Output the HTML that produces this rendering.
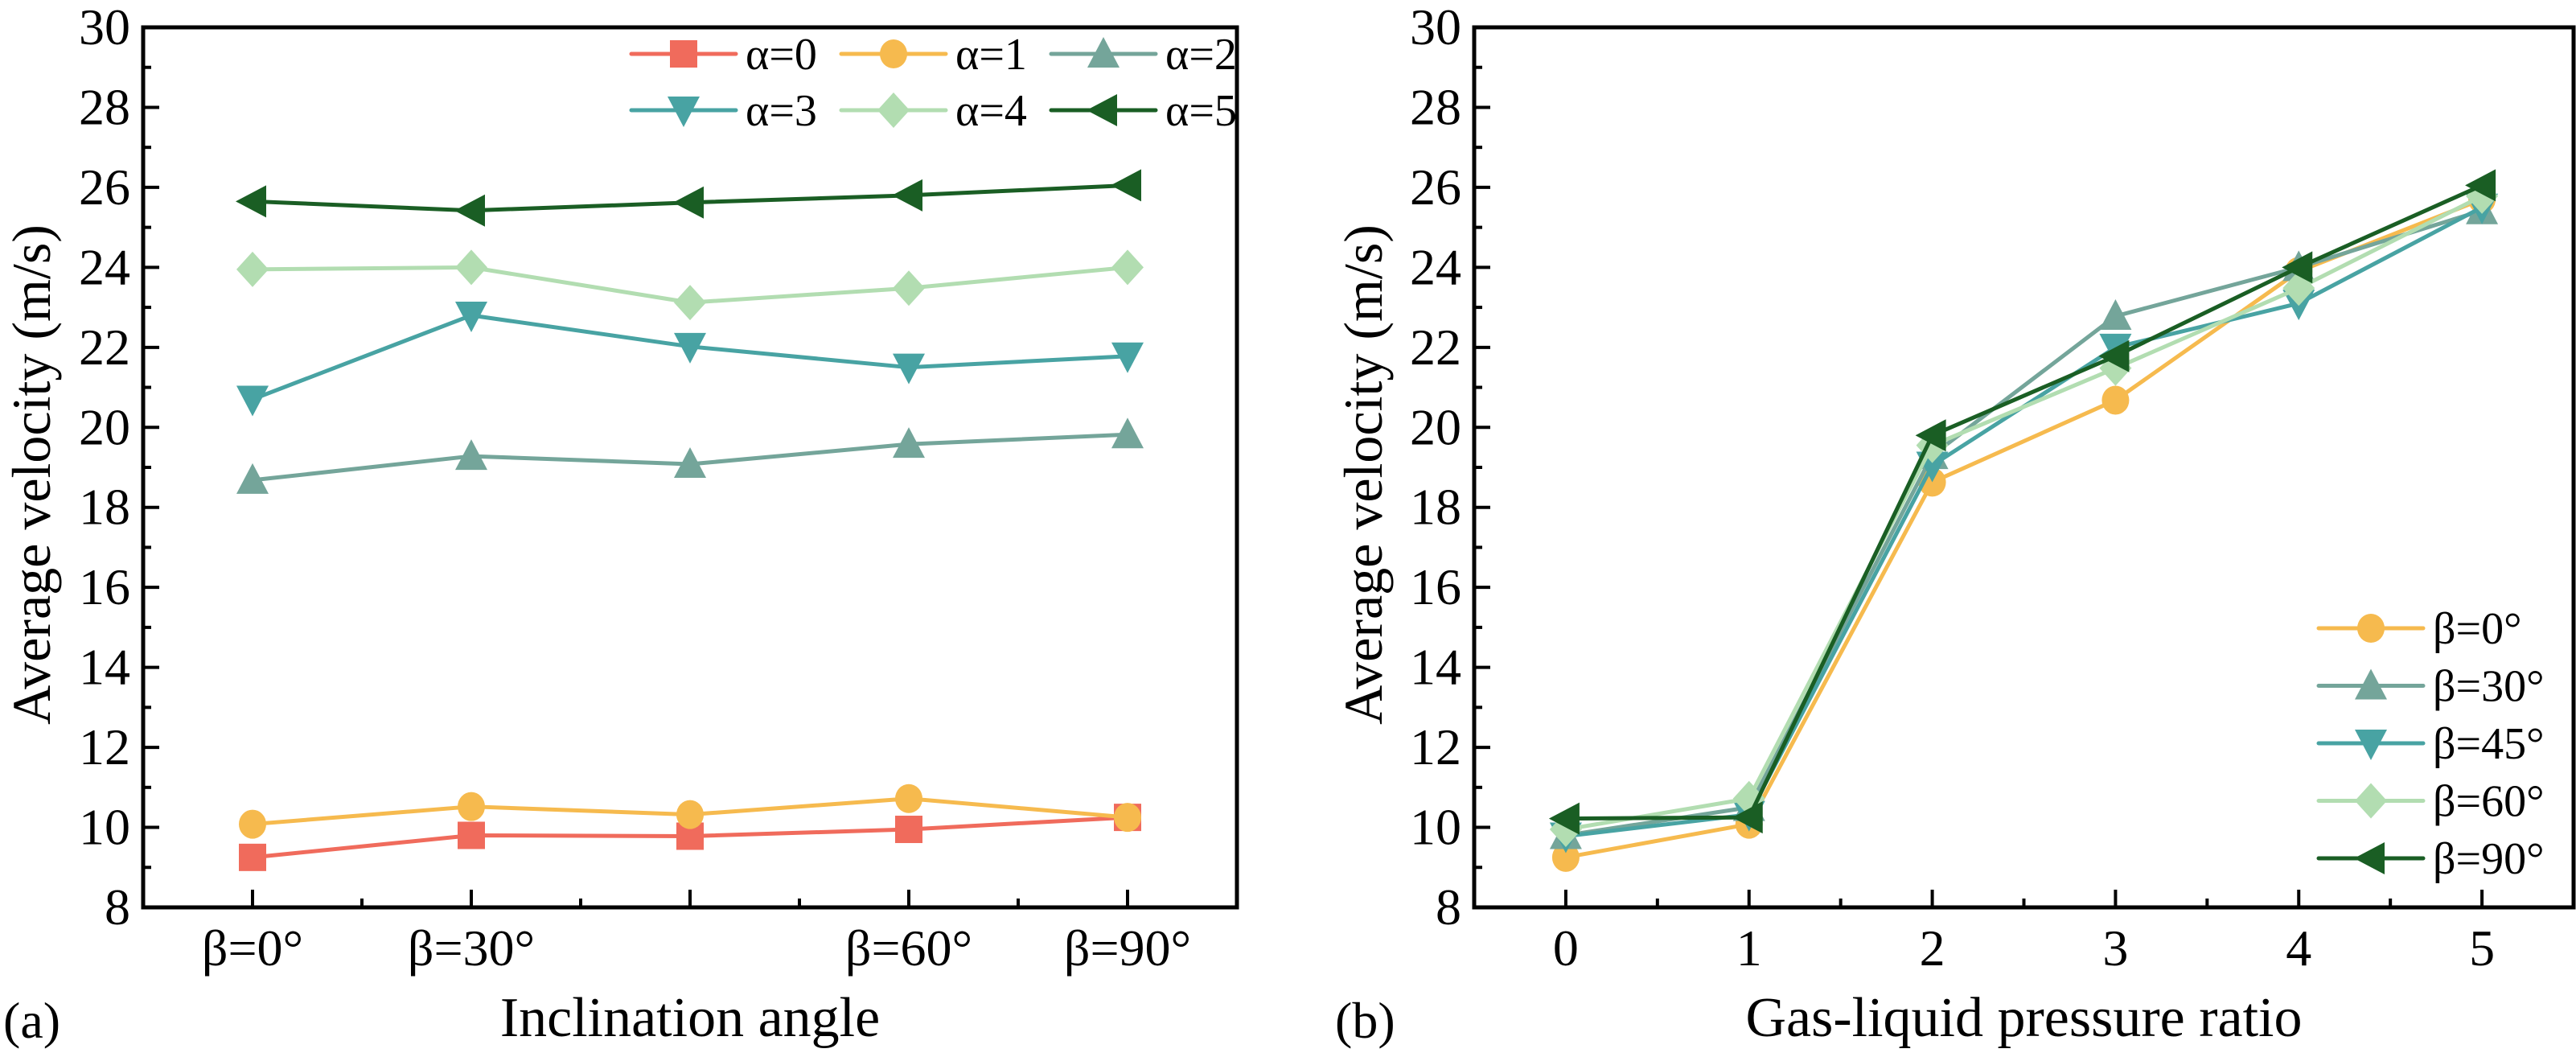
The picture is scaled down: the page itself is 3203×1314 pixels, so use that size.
<!DOCTYPE html>
<html><head><meta charset="utf-8"><style>
html,body{margin:0;padding:0;background:#fff;}
svg, svg text{font-family:"Liberation Serif","Times New Roman","DejaVu Serif","Noto Serif CJK SC",serif;}
</style></head><body>
<svg id="fig" width="3203" height="1309" viewBox="0 0 3203 1309" xmlns="http://www.w3.org/2000/svg">
<rect x="0" y="0" width="3203" height="1309" fill="#fff"/>
</svg>
<script>
const catsA = ["β=0°","β=30°","","β=60°","β=90°"];
const a0 = [9.25, 9.8, 9.78, 9.95, 10.25];
const a1 = [10.08, 10.52, 10.32, 10.72, 10.25];
const a2 = [18.68, 19.28, 19.08, 19.58, 19.82];
const a3 = [20.7, 22.8, 22.02, 21.5, 21.78];
const a4 = [23.95, 24.0, 23.12, 23.48, 24.0];
const a5 = [25.65, 25.42, 25.62, 25.8, 26.05];
const catsB = ["0","1","2","3","4","5"];
const b0 = [9.25, 10.08, 18.63, 20.68, 23.9, 25.7];
const b30 = [9.8, 10.5, 19.3, 22.78, 24.0, 25.42];
const b45 = [9.78, 10.32, 19.05, 22.0, 23.1, 25.5];
const b60 = [9.95, 10.72, 19.55, 21.48, 23.48, 25.78];
const b90 = [10.22, 10.25, 19.8, 21.78, 24.0, 26.05];
const yTicks = [8,10,12,14,16,18,20,22,24,26,28,30];
const namesA = ["α=0","α=1","α=2","α=3","α=4","α=5"];
const namesB = ["β=0°","β=30°","β=45°","β=60°","β=90°"];

const C = {sq:"#F06B5C",ci:"#F6BA4E",up:"#74A59A",dn:"#48A3A3",di:"#B2DDB1",lf:"#1A5E24"};
const FF = '"Liberation Serif","Times New Roman","DejaVu Serif",serif';
const NS="http://www.w3.org/2000/svg";
const svg=document.getElementById('fig');
function mk(tag,attrs,parent){const e=document.createElementNS(NS,tag);for(const k in attrs)e.setAttribute(k,attrs[k]);if(tag==='text'){e.style.fontFamily=FF;}(parent||svg).appendChild(e);return e;}

function marker(g,shape,x,y,color){
  const s=17;let e;
  if(shape==='sq') e=mk('rect',{x:x-s,y:y-s,width:2*s,height:2*s,fill:color},g);
  else if(shape==='ci') e=mk('ellipse',{cx:x,cy:y,rx:s,ry:s+1,fill:color},g);
  else if(shape==='up') e=mk('polygon',{points:`${x},${y-s-4} ${x+s+3},${y+s} ${x-s-3},${y+s}`,fill:color},g);
  else if(shape==='dn') e=mk('polygon',{points:`${x},${y+s+4} ${x+s+3},${y-s} ${x-s-3},${y-s}`,fill:color},g);
  else if(shape==='di') e=mk('polygon',{points:`${x},${y-s-5} ${x+s+3},${y} ${x},${y+s+5} ${x-s-3},${y}`,fill:color},g);
  else e=mk('polygon',{points:`${x-s-4},${y} ${x+s},${y-s-3} ${x+s},${y+s+3}`,fill:color},g);
  
  
}

function panel(o){
  const L=o.L,R=o.R,T=34,B=1128;
  const xs=i=>L+(i+0.5)*(R-L)/o.n;
  const ys=v=>B-(v-8)*(B-T)/22;
  const g=mk('g',{});
  
  
  for(let v=8;v<=30;v+=1){
    const major=(v%2===0);const y=ys(v);
    mk('line',{x1:L,x2:L+(major?20:10),y1:y,y2:y,stroke:'#000','stroke-width':4},g);
  }
  yTicks.forEach(v=>{const t=mk('text',{x:L-16,y:ys(v)+21,'text-anchor':'end','font-size':64},g);t.textContent=v;
    });
  for(let i=0;i<o.n;i++){
    mk('line',{x1:xs(i),x2:xs(i),y1:B,y2:B-22,stroke:'#000','stroke-width':4},g);
    if(i<o.n-1) mk('line',{x1:(xs(i)+xs(i+1))/2,x2:(xs(i)+xs(i+1))/2,y1:B,y2:B-11,stroke:'#000','stroke-width':4},g);
    const t=mk('text',{x:xs(i),y:1200,'text-anchor':'middle','font-size':64},g);t.textContent=o.cats[i];
    
  }
  o.series.forEach(s=>{
    const sg=mk('g',{},g);
    
    
    const pts=s.data.map((v,i)=>xs(i)+','+ys(v)).join(' ');
    const pl=mk('polyline',{points:pts,fill:'none',stroke:s.color,'stroke-width':5,'stroke-linejoin':'round'},sg);
    
    
    s.data.forEach((v,i)=>marker(sg,s.shape,xs(i),ys(v),s.color));
  });
  mk('rect',{x:L,y:T,width:R-L,height:B-T,fill:'none',stroke:'#000','stroke-width':5},g);
  const yt=mk('text',{x:0,y:0,transform:`translate(${o.ytx},590) rotate(-90)`,'text-anchor':'middle','font-size':68},g);
  yt.textContent='Average velocity (m/s)';
  
  const xt=mk('text',{x:(L+R)/2,y:1288,'text-anchor':'middle','font-size':70},g);
  xt.textContent=o.xtitle;
  
  const pl=mk('text',{x:o.plx,y:1290,'font-size':64},g);pl.textContent=o.plabel;
  
  const lg=mk('g',{},g);
  
  
  o.series.forEach((s,k)=>{
    const [lx,ly]=o.legPos(k);
    const e=mk('g',{},lg);
    
    
    mk('line',{x1:lx,x2:lx+130,y1:ly,y2:ly,stroke:s.color,'stroke-width':5,'stroke-linecap':'round'},e);
    marker(e,s.shape,lx+65,ly,s.color);
    const t=mk('text',{x:lx+142,y:ly+19,'font-size':56},e);t.textContent=s.label;
  });
}

panel({name:'panel-a',L:178,R:1538,n:5,cats:catsA,ytx:62,xtitle:'Inclination angle',plabel:'(a)',plx:4,
  series:[
    {label:namesA[0],data:a0,color:C.sq,shape:'sq'},
    {label:namesA[1],data:a1,color:C.ci,shape:'ci'},
    {label:namesA[2],data:a2,color:C.up,shape:'up'},
    {label:namesA[3],data:a3,color:C.dn,shape:'dn'},
    {label:namesA[4],data:a4,color:C.di,shape:'di'},
    {label:namesA[5],data:a5,color:C.lf,shape:'lf'}],
  legPos:k=>[785+(k%3)*261, k<3?67:137]});

panel({name:'panel-b',L:1833,R:3200,n:6,cats:catsB,ytx:1718,xtitle:'Gas-liquid pressure ratio',plabel:'(b)',plx:1660,
  series:[
    {label:namesB[0],data:b0,color:C.ci,shape:'ci'},
    {label:namesB[1],data:b30,color:C.up,shape:'up'},
    {label:namesB[2],data:b45,color:C.dn,shape:'dn'},
    {label:namesB[3],data:b60,color:C.di,shape:'di'},
    {label:namesB[4],data:b90,color:C.lf,shape:'lf'}],
  legPos:k=>[2883, 781+k*71.5]});
</script>
</body></html>
